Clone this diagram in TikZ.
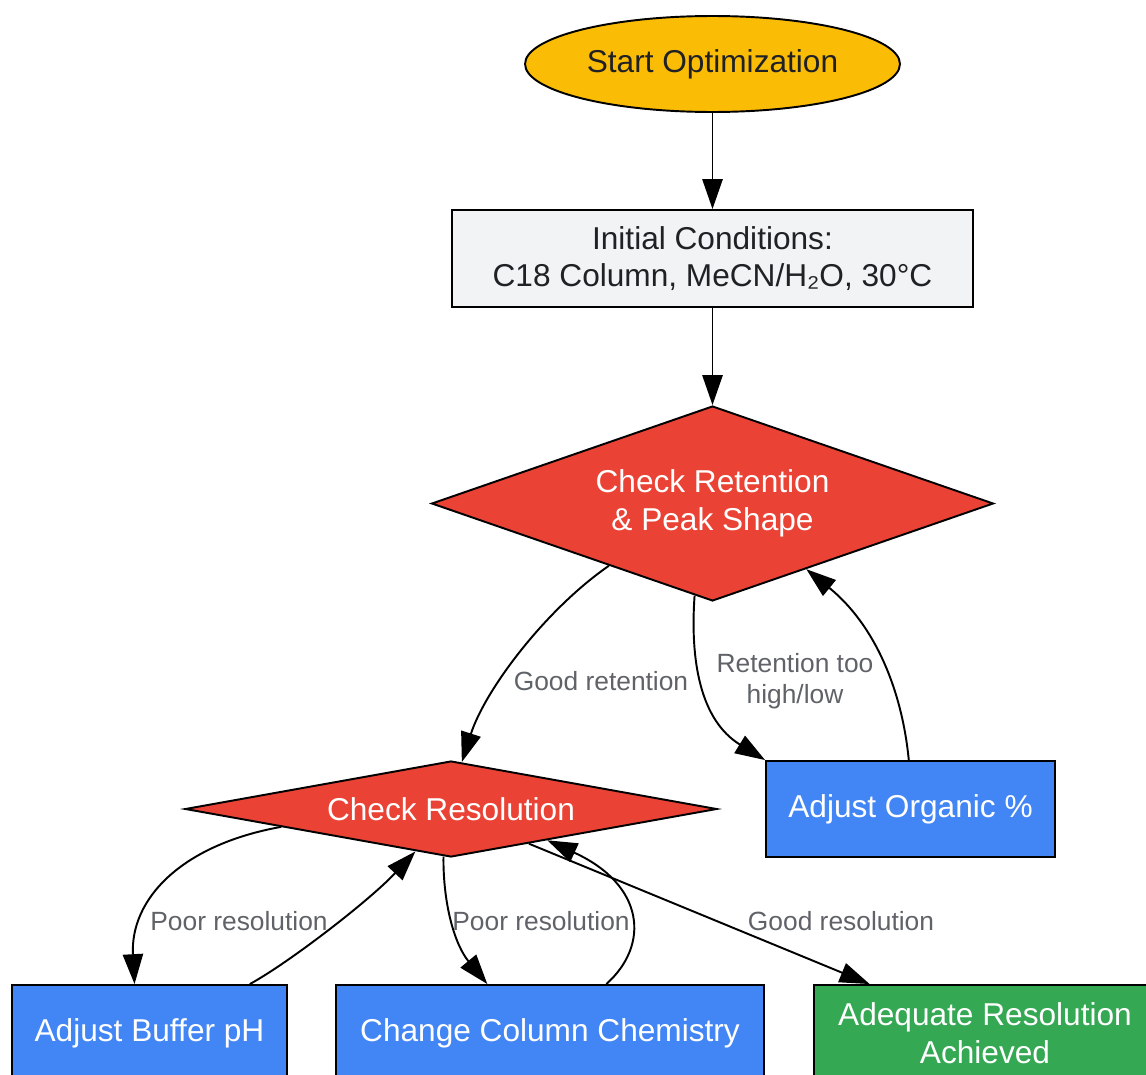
\documentclass[tikz,border=0pt]{standalone}
\usepackage{fontspec}
\setmainfont{Liberation Sans}
\usetikzlibrary{arrows.meta,shapes.geometric}

\definecolor{gyellow}{HTML}{FBBC05}
\definecolor{gred}{HTML}{EA4335}
\definecolor{gblue}{HTML}{4285F4}
\definecolor{ggreen}{HTML}{34A853}
\definecolor{glight}{HTML}{F1F3F4}
\definecolor{txtdark}{HTML}{202124}
\definecolor{txtgray}{HTML}{5F6368}

\begin{document}
\begin{tikzpicture}[x=0.02cm, y=-0.02cm,
    box/.style={draw=black, line width=1.1pt, inner sep=0pt, align=center,
        font=\fontsize{18}{21.5}\selectfont, text=white},
    decision/.style={box, diamond, fill=gred},
    action/.style={box, rectangle, fill=gblue, minimum height=1.92cm},
    lbl/.style={text=txtgray, align=center, font=\fontsize{15}{17.6}\selectfont},
    flow/.style={-{Triangle[length=17pt,width=11.5pt]}, line width=1.1pt}]
    \useasboundingbox (0,0) rectangle (1146,1075);

    % Inicio y condiciones
    \node[box, ellipse, fill=gyellow, text=txtdark, minimum width=7.5cm, minimum height=1.92cm]
        (start) at (712.5,64) {Start Optimization};
    \node[box, rectangle, fill=glight, text=txtdark, minimum width=10.42cm, minimum height=1.94cm]
        (init) at (712.5,258.5) {Initial Conditions:\\C18 Column, MeCN/H₂O, 30°C};

    % Decisiones
    \node[decision, shape aspect=2.9, minimum width=11.24cm, minimum height=3.9cm]
        (ret) at (712.5,503.5) {Check Retention\\\& Peak Shape};
    \node[decision, shape aspect=5.5, minimum width=10.64cm, minimum height=1.92cm]
        (res) at (451,809) {Check Resolution};

    % Acciones
    \node[action, minimum width=5.78cm] (organic) at (910.5,809) {Adjust Organic \%};
    \node[action, minimum width=5.5cm] (buffer) at (149.5,1033) {Adjust Buffer pH};
    \node[action, minimum width=8.56cm] (column) at (550,1033) {Change Column Chemistry};
    \node[action, fill=ggreen, minimum width=6.84cm] (done) at (985,1033) {Adequate Resolution\\Achieved};

    % Etiquetas
    \node[lbl] (lgood) at (601,681) {Good retention};
    \node[lbl] (lbad) at (795,681) {Retention too\\high/low};
    \node[lbl] (lpoor1) at (239,921) {Poor resolution};
    \node[lbl] (lpoor2) at (541,921) {Poor resolution};
    \node[lbl] (lgoodres) at (841,921) {Good resolution};

    % Flechas
    \draw[flow] (start) -- (init);
    \draw[flow] (init) -- (ret);
    \draw[flow] (ret.-149) .. controls (545,610) and (485,690) .. (res.77);
    \draw[flow] (ret.-101) .. controls (690,660) and (700,720) .. (organic.north west);
    \draw[flow] (organic.92) .. controls (902,690) and (875,625) .. (ret.-35);
    \draw[flow] (res.-174) .. controls (180,845) and (130,900) .. (buffer.107);
    \draw[flow] (buffer.26) .. controls (290,962) and (370,900) .. (res.-130);
    \draw[flow] (res.-99) .. controls (443,905) and (455,945) .. (column.142);
    \draw[flow] (column.41) .. controls (650,945) and (645,885) .. (res.-18);
    \draw[flow] (res.-24) -- (done.157);

\end{tikzpicture}
\end{document}
